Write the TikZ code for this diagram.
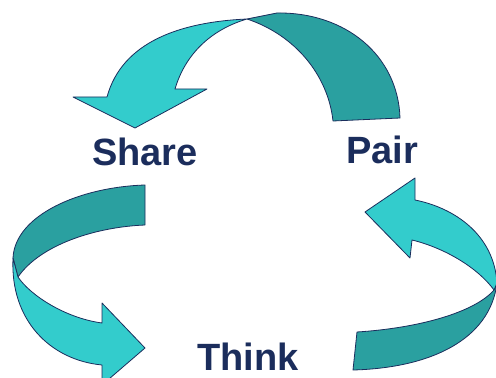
\documentclass[tikz,border=0pt]{standalone}
\usepackage{fontspec}
\setmainfont{Liberation Sans}
\usepackage{xcolor}
\definecolor{teal300}{HTML}{33CCCC}
\definecolor{teal600}{HTML}{2AA0A0}
\definecolor{navy900}{HTML}{1B2D5C}
\usepackage{tikz}
\usetikzlibrary{positioning}

\begin{document}
\begin{tikzpicture}[
        x=0.75pt, y=-0.75pt,
        band/.style={draw=navy900, line width=0.6pt, line join=round},
        lightband/.style={band, fill=teal300},
        darkband/.style={band, fill=teal600},
        word/.style={font=\fontsize{28.5}{34}\selectfont\bfseries, text=navy900, inner sep=0pt, anchor=base}
    ]
        \useasboundingbox (0,0) rectangle (496,378);

        % Top arrow: Pair to Share
        \draw[darkband] (400,118) .. controls (398,55) and (345,12) .. (277,13)
            -- (247,19) .. controls (295,35) and (328,75) .. (333,121) -- cycle;
        \draw[lightband] (107,97) .. controls (122,42) and (180,22) .. (247,19)
            .. controls (210,30) and (185,55) .. (175,89)
            -- (207,89) -- (135,128) -- (73,97) -- cycle;

        % Left arrow: Share to Think
        \draw[darkband] (145,185) -- (145,225) .. controls (95,227) and (40,245) .. (18,277)
            -- (13,258) .. controls (15,215) and (80,187) .. (145,185) -- cycle;
        \draw[lightband] (13,258) .. controls (10,320) and (50,360) .. (102,365)
            -- (102,385) -- (145,348) -- (102,303) -- (102,323)
            .. controls (65,318) and (30,295) .. (18,277) -- cycle;

        % Right arrow: Think to Pair
        \draw[darkband] (497,283) .. controls (490,340) and (430,368) .. (353,370)
            -- (357,332) .. controls (420,328) and (475,312) .. (494,290) -- cycle;
        \draw[lightband] (365,212) -- (415,178) -- (415,200)
            .. controls (455,208) and (494,235) .. (497,283)
            -- (494,290) .. controls (478,268) and (445,248) .. (412,240)
            -- (410,258) -- cycle;

        % Words
        \node[word] (share) at (145,165) {Share};
        \node[word] (pair) at (382,163) {Pair};
        \node[word] (think) at (248,370) {Think};

    \end{tikzpicture}
\end{document}
